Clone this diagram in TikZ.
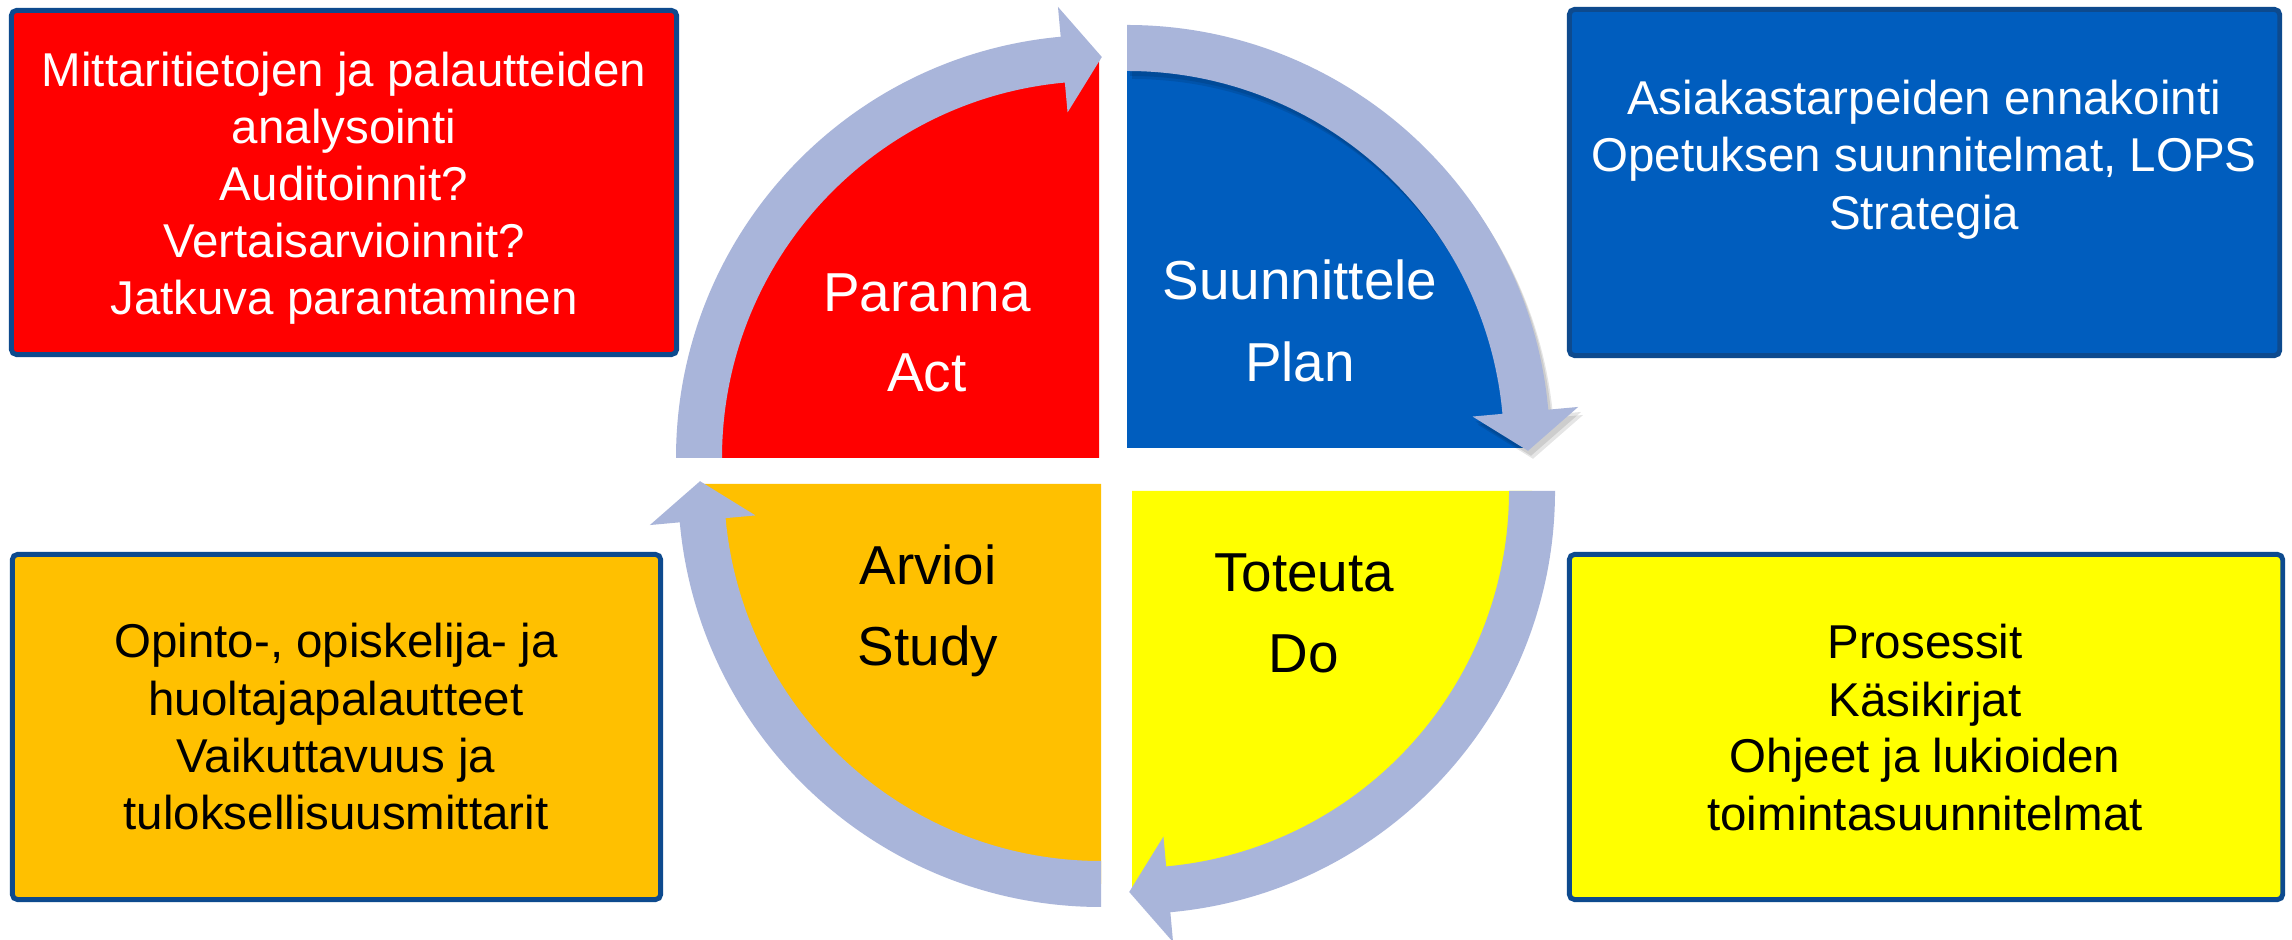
\documentclass[tikz,border=0pt]{standalone}
\usepackage{fontspec}
\setmainfont{Liberation Sans}
\definecolor{redq}{HTML}{FF0000}
\definecolor{blueq}{HTML}{005DBE}
\definecolor{yellowq}{HTML}{FFFF00}
\definecolor{orangeq}{HTML}{FFC000}
\definecolor{arrowc}{HTML}{A9B5DA}
\definecolor{boxborder}{HTML}{0D4A8E}
\tikzset{
  infobox/.style={draw=boxborder, line width=1.4pt, rounded corners=1.5pt, inner sep=0pt},
  bigtxt/.style={font=\fontsize{15.6}{18}\selectfont, anchor=base, inner sep=0pt},
  boxtxt/.style={font=\fontsize{13.5}{16}\selectfont, anchor=base, inner sep=0pt},
}
\newcommand{\pdcaarrow}[1]{\fill[#1] (180:423) arc[start angle=180,end angle=95.2,radius=423] -- (95.2:453) -- (89.6:401) -- (95.2:347) -- (95.2:377) arc[start angle=95.2,end angle=180,radius=377] -- cycle;}
\begin{document}
\begin{tikzpicture}[x=0.01cm,y=0.01cm]
\useasboundingbox (0,0) rectangle (2292,940);
\clip (0,0) rectangle (2292,940);
\fill[white] (0,0) rectangle (2292,940);

% info boxes
\node[infobox, fill=redq, minimum width=6.65cm, minimum height=3.44cm] (actbox) at (344,757.5) {};
\node[infobox, fill=blueq, minimum width=7.10cm, minimum height=3.46cm] (planbox) at (1924.5,757.5) {};
\node[infobox, fill=orangeq, minimum width=6.48cm, minimum height=3.45cm] (studybox) at (336.5,213) {};
\node[infobox, fill=yellowq, minimum width=7.13cm, minimum height=3.45cm] (dobox) at (1926,213) {};

% quadrants
\begin{scope}[shift={(1099,482)}]
  \fill[redq] (0,0) -- (180:400) arc[start angle=180,end angle=90,radius=400] -- cycle;
\end{scope}
\begin{scope}[shift={(1127,492)}]
  \fill[blueq] (0,0) -- (0:400) arc[start angle=0,end angle=90,radius=400] -- cycle;
\end{scope}
\begin{scope}[shift={(1132,449)}]
  \fill[yellowq] (0,0) -- (270:400) arc[start angle=270,end angle=360,radius=400] -- cycle;
\end{scope}
\begin{scope}[shift={(1101,456)}]
  \fill[orangeq] (0,0) -- (180:400) arc[start angle=180,end angle=270,radius=400] -- cycle;
\end{scope}

% arrows
\begin{scope}[shift={(1099,482)}]
  \pdcaarrow{arrowc}
\end{scope}
\begin{scope}[shift={(1130,487)}, rotate=-90]
  \pdcaarrow{black, opacity=0.10}
\end{scope}
\begin{scope}[shift={(1132,484)}, rotate=-90]
  \pdcaarrow{black, opacity=0.10}
\end{scope}
\begin{scope}[shift={(1127,492)}, rotate=-90]
  \pdcaarrow{arrowc}
\end{scope}
\begin{scope}[shift={(1132,449)}, rotate=-180]
  \pdcaarrow{arrowc}
\end{scope}
\begin{scope}[shift={(1101,456)}, rotate=90]
  \pdcaarrow{arrowc}
\end{scope}

% quadrant labels
\node[bigtxt, text=white] (paranna) at (927,628) {Paranna};
\node[bigtxt, text=white] (act) at (927,548) {Act};
\node[bigtxt, text=white] (suunn) at (1300,640) {Suunnittele};
\node[bigtxt, text=white] (plan) at (1300,558) {Plan};
\node[bigtxt, text=black] (toteuta) at (1304,348) {Toteuta};
\node[bigtxt, text=black] (do) at (1304,267) {Do};
\node[bigtxt, text=black] (arvioi) at (928,355) {Arvioi};
\node[bigtxt, text=black] (study) at (928,274) {Study};

% box texts
\node[boxtxt, text=white] (a1) at (344,853) {Mittaritietojen ja palautteiden};
\node[boxtxt, text=white] (a2) at (344,796) {analysointi};
\node[boxtxt, text=white] (a3) at (344,739) {Auditoinnit?};
\node[boxtxt, text=white] (a4) at (344,682) {Vertaisarvioinnit?};
\node[boxtxt, text=white] (a5) at (344,625) {Jatkuva parantaminen};

\node[boxtxt, text=white] (p1) at (1924,825) {Asiakastarpeiden ennakointi};
\node[boxtxt, text=white] (p2) at (1924,768) {Opetuksen suunnitelmat, LOPS};
\node[boxtxt, text=white] (p3) at (1924,710) {Strategia};

\node[boxtxt, text=black] (s1) at (336,282) {Opinto-, opiskelija- ja};
\node[boxtxt, text=black] (s2) at (336,224) {huoltajapalautteet};
\node[boxtxt, text=black] (s3) at (336,167) {Vaikuttavuus ja};
\node[boxtxt, text=black] (s4) at (336,110) {tuloksellisuusmittarit};

\node[boxtxt, text=black] (d1) at (1925,281) {Prosessit};
\node[boxtxt, text=black] (d2) at (1925,223) {Käsikirjat};
\node[boxtxt, text=black] (d3) at (1925,167) {Ohjeet ja lukioiden};
\node[boxtxt, text=black] (d4) at (1925,109) {toimintasuunnitelmat};
\end{tikzpicture}
\end{document}
